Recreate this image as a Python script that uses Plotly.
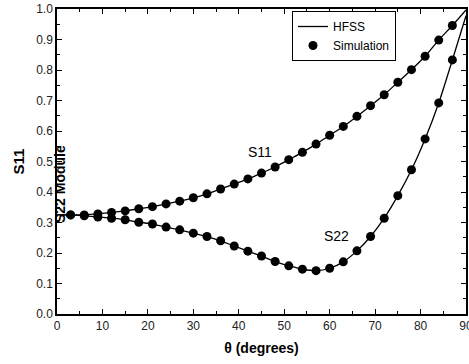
import plotly.graph_objects as go

theta = list(range(0, 91, 3))
s11 = [0.325, 0.325, 0.325, 0.328, 0.333, 0.338, 0.345, 0.352, 0.361, 0.370, 0.381,
       0.394, 0.410, 0.426, 0.443, 0.462, 0.482, 0.506, 0.530, 0.557, 0.586,
       0.615, 0.648, 0.683, 0.719, 0.760, 0.801, 0.845, 0.898, 0.946, 0.997]
s22 = [0.325, 0.325, 0.322, 0.318, 0.314, 0.309, 0.301, 0.295, 0.285, 0.276, 0.265,
       0.254, 0.240, 0.223, 0.206, 0.190, 0.172, 0.158, 0.147, 0.142, 0.150,
       0.171, 0.207, 0.254, 0.314, 0.388, 0.473, 0.574, 0.692, 0.833, 0.978]

sim_theta = theta[1:-1]
sim_s11 = s11[1:-1]
sim_s22 = s22[1:-1]

FONT = "Liberation Sans, Arial, sans-serif"

fig = go.Figure()
fig.add_trace(go.Scatter(x=theta, y=s11, mode="lines", name="HFSS",
                         line=dict(color="black", width=1.3, shape="spline"),
                         legendgroup="h"))
fig.add_trace(go.Scatter(x=theta, y=s22, mode="lines", name="HFSS",
                         line=dict(color="black", width=1.3, shape="spline"),
                         showlegend=False, legendgroup="h"))
fig.add_trace(go.Scatter(x=sim_theta, y=sim_s11, mode="markers", name="Simulation",
                         marker=dict(color="black", size=9), legendgroup="s"))
fig.add_trace(go.Scatter(x=sim_theta, y=sim_s22, mode="markers", name="Simulation",
                         marker=dict(color="black", size=9), showlegend=False,
                         legendgroup="s"))

axis_common = dict(showline=True, linecolor="black", linewidth=1.5, mirror="ticks",
                   ticks="inside", ticklen=5, tickwidth=1.2, tickcolor="black",
                   showgrid=False, zeroline=False, automargin=False,
                   ticklabeloverflow="allow",
                   tickfont=dict(family=FONT, size=12, color="#222"))

fig.update_xaxes(range=[0, 90], dtick=10, tick0=0,
                 minor=dict(ticks="inside", ticklen=3, dtick=5, tickcolor="black", tickwidth=1),
                 title=dict(text="<b>θ (degrees)</b>", font=dict(family=FONT, size=14, color="black"),
                            standoff=11),
                 **axis_common)
fig.update_yaxes(range=[0, 1.0], dtick=0.1, tick0=0, tickformat=".1f",
                 minor=dict(ticks="inside", ticklen=3, dtick=0.05, tickcolor="black", tickwidth=1),
                 title=dict(text="<b>S11</b>", font=dict(family=FONT, size=15, color="black"),
                            standoff=8),
                 **axis_common)

fig.add_annotation(x=44.7, y=0.531, xref="x", yref="y", text="S11", showarrow=False,
                   font=dict(family=FONT, size=14, color="black"))
fig.add_annotation(x=61.4, y=0.256, xref="x", yref="y", text="S22", showarrow=False,
                   font=dict(family=FONT, size=14, color="black"))
fig.add_annotation(x=(60 - 57) / 409, y=(314 - 184) / 305, xref="paper", yref="paper",
                   xanchor="center", yanchor="middle",
                   text="<b>S22 Module</b>", showarrow=False, textangle=-90,
                   font=dict(family=FONT, size=14, color="black"))

fig.update_layout(
    width=469, height=364,
    margin=dict(l=57, r=3, t=9, b=50, autoexpand=False),
    paper_bgcolor="white", plot_bgcolor="white",
    showlegend=True,
    legend=dict(x=(292 - 57) / 409, y=(314 - 11) / 305, xanchor="left", yanchor="top",
                bordercolor="black", borderwidth=1, bgcolor="white",
                font=dict(family=FONT, size=12, color="black"),
                tracegroupgap=0, itemwidth=30),
)

# remove the page's default 8px body margin so the figure sits at the window origin
fig.write_html("out.html", config={"displayModeBar": False},
               post_script="document.body.style.margin='0';")
